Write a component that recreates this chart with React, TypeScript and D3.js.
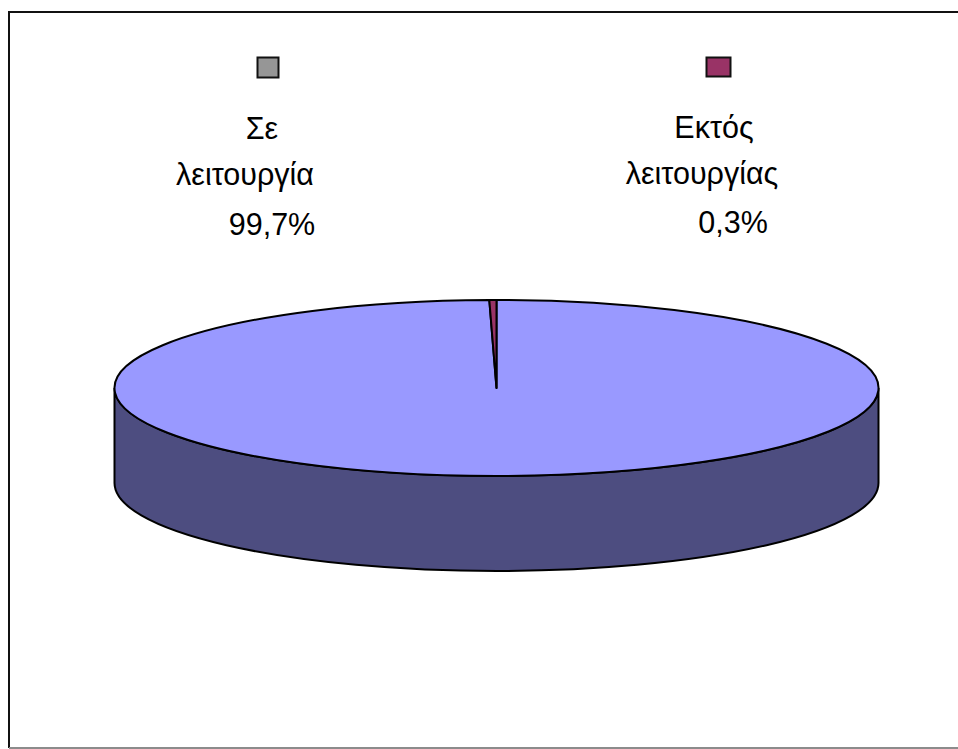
import React from "react";
import * as d3 from "d3";

const categories = ["Σε λειτουργία", "Εκτός λειτουργίας"];
const sliceValues = [99.7, 0.3];
const percentLabels = ["99,7%", "0,3%"];
const labelLines = [["Σε", "λειτουργία"], ["Εκτός", "λειτουργίας"]];
const legendColors = ["#969696", "#993366"];
const sliceColors = ["#9999ff", "#993366"];
const sideColor = "#4d4d80";

const W = 958, H = 749;
const cx = 496.5, cy = 388, rx = 382, ry = 88, depth = 95;
const font = "'Liberation Sans', Arial, sans-serif";

const legendPos = [
  { x: 257, y: 57, w: 21, h: 20, lineX: [262, 245], lineY: [139, 185], pctX: 272, pctY: 235 },
  { x: 706, y: 57, w: 24, h: 19, lineX: [714, 702], lineY: [138, 184], pctX: 733, pctY: 233 },
];

export default function App() {
  const pie = d3.pie<number>().value(d => d).sort(null).startAngle(0).endAngle(2 * Math.PI);
  const arcs = pie(sliceValues);
  const arc = d3.arc<d3.PieArcDatum<number>>().innerRadius(0).outerRadius(rx);
  const side = `M${cx - rx},${cy} A${rx},${ry} 0 0 0 ${cx + rx},${cy} L${cx + rx},${cy + depth} A${rx},${ry} 0 0 1 ${cx - rx},${cy + depth} Z`;
  return (
    <svg width={W} height={H} style={{ position: "absolute", left: 0, top: 0, background: "#fff" }} fontFamily={font}>
      <path d={`M9,748 V12 H${W}`} fill="none" stroke="#111" strokeWidth={2} />
      <line x1={9} x2={W} y1={748} y2={748} stroke="#8c8c8c" strokeWidth={2} />
      <path d={side} fill={sideColor} stroke="#000" strokeWidth={2} />
      <g transform={`translate(${cx},${cy}) scale(1,${ry / rx})`}>
        {arcs.map((a, i) => (
          <path key={categories[i]} d={arc(a) as string} fill={sliceColors[i]} stroke="#000" strokeWidth={2} vectorEffect="non-scaling-stroke" strokeLinejoin="round" />
        ))}
      </g>
      {categories.map((c, i) => {
        const p = legendPos[i];
        return (
          <g key={c}>
            <rect x={p.x + 0.5} y={p.y + 0.5} width={p.w} height={p.h} fill={legendColors[i]} stroke="#111" strokeWidth={2} />
            {labelLines[i].map((t, j) => (
              <text key={t} x={p.lineX[j]} y={p.lineY[j]} fontSize={30.5} fill="#000" textAnchor="middle">{t}</text>
            ))}
            <text x={p.pctX} y={p.pctY} fontSize={30.5} fill="#000" textAnchor="middle">{percentLabels[i]}</text>
          </g>
        );
      })}
    </svg>
  );
}
